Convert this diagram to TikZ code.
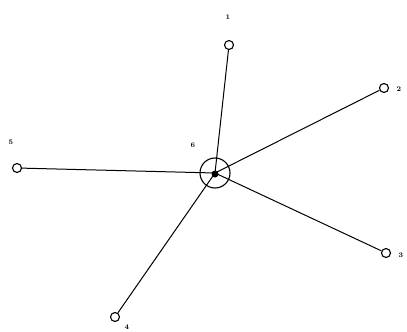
\documentclass[tikz,border=0pt]{standalone}
\usetikzlibrary{positioning}

\begin{document}
\begin{tikzpicture}[x=1pt, y=-1pt, every node/.style={font=\scriptsize\bfseries}]
\tikzset{
  leaf/.style={draw, circle, line width=1.1pt, minimum size=9pt, inner sep=0pt},
  hub/.style={draw, circle, line width=1.1pt, minimum size=30pt, inner sep=0pt},
  edge/.style={line width=1pt}
}
\useasboundingbox (0,0) rectangle (407,332);

% ---- hub ----
\node[hub] (c) at (215,173) {};
\fill (215,174) circle (3.5pt);
\node at (193,145) {6};

% ---- leaves ----
\node[leaf] (n1) at (229,45) {};
\node[leaf] (n2) at (384,88) {};
\node[leaf] (n3) at (386,253) {};
\node[leaf] (n4) at (115,317) {};
\node[leaf] (n5) at (17,168) {};

\node at (228,17) {1};
\node at (399,89) {2};
\node at (401,255) {3};
\node at (127,327) {4};
\node at (11,142) {5};

% ---- spokes ----
\foreach \n in {n1,n2,n3,n4,n5} {
  \draw[edge] (c.center) -- (\n);
}
\end{tikzpicture}
\end{document}
